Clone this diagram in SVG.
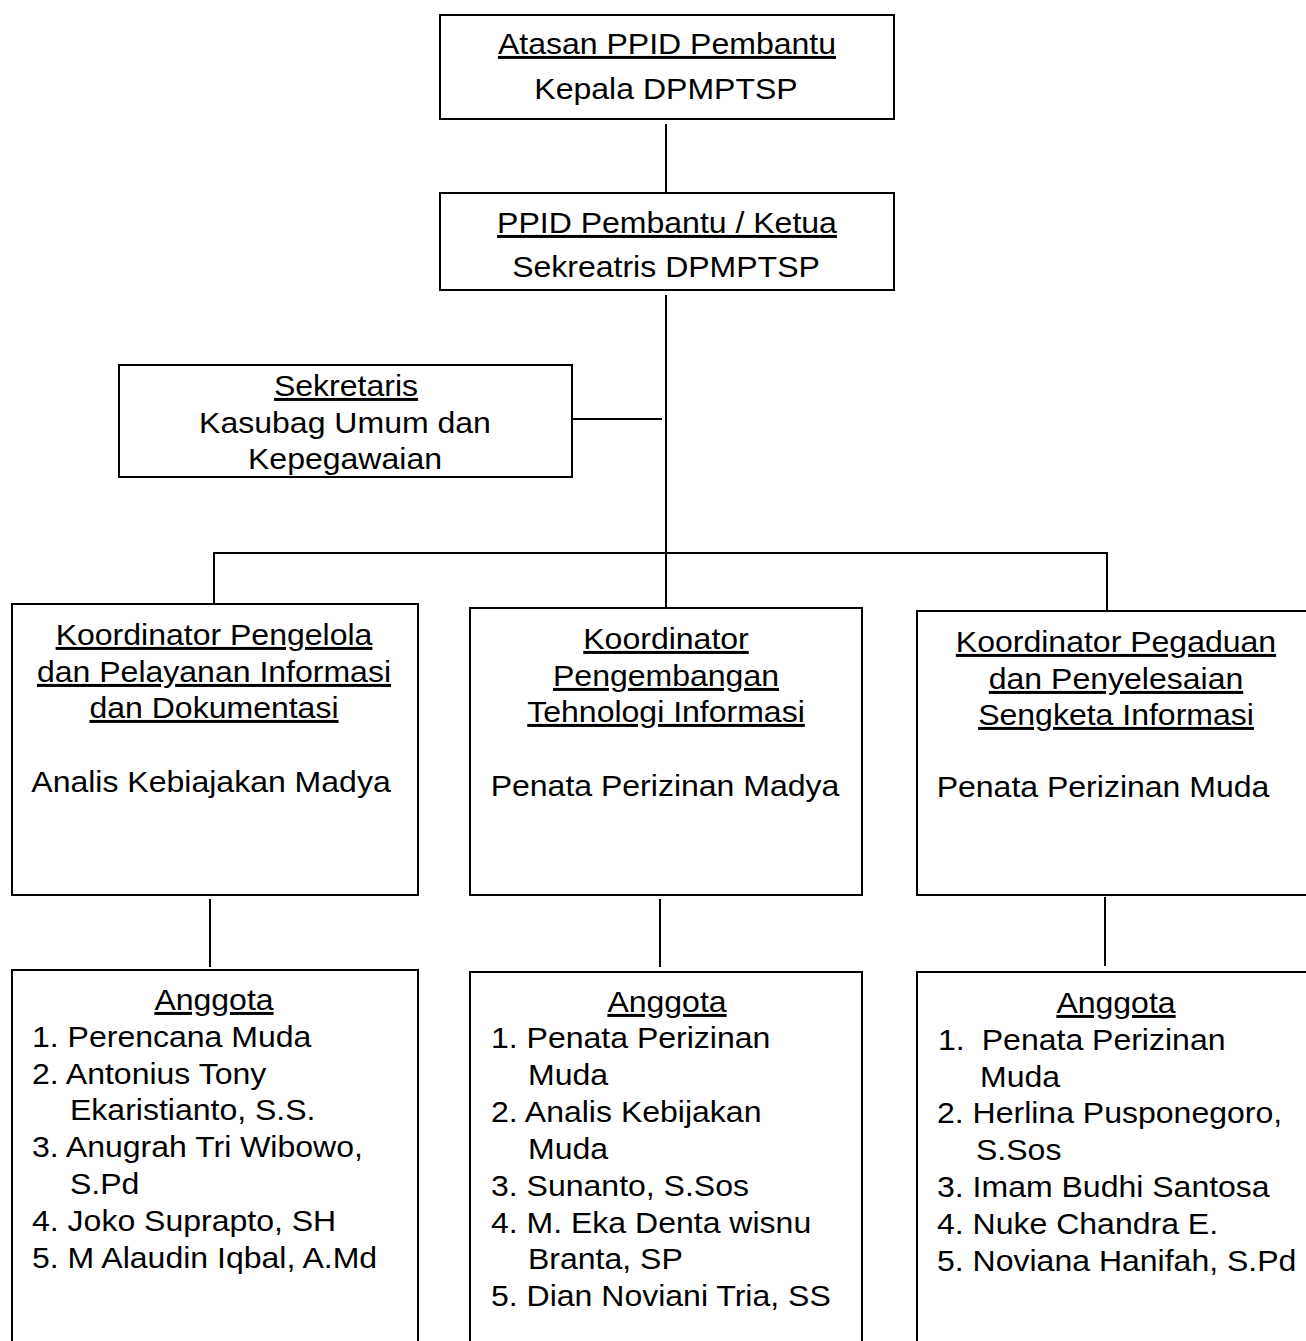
<svg xmlns="http://www.w3.org/2000/svg" width="1306" height="1341" viewBox="0 0 1306 1341">
<style>
.box{fill:#fff;stroke:#000;stroke-width:2}
.ln{stroke:#000;stroke-width:2;fill:none}
text{font-family:"Liberation Sans",Arial,sans-serif;font-size:30px;fill:#000}
.c{text-anchor:middle}
.u{text-decoration:underline}
</style>
<rect width="1306" height="1341" fill="#fff"/>
<g id="connectors">
<line class="ln" x1="666" y1="124" x2="666" y2="192"/>
<line class="ln" x1="666" y1="295" x2="666" y2="607"/>
<line class="ln" x1="573" y1="419" x2="662" y2="419"/>
<line class="ln" x1="213" y1="553" x2="1108" y2="553"/>
<line class="ln" x1="214" y1="552" x2="214" y2="603"/>
<line class="ln" x1="1107" y1="552" x2="1107" y2="610"/>
<line class="ln" x1="210" y1="899" x2="210" y2="967"/>
<line class="ln" x1="660" y1="899" x2="660" y2="967"/>
<line class="ln" x1="1105" y1="897" x2="1105" y2="966"/>
</g>
<g id="atasan">
<rect class="box" x="440" y="15" width="454" height="104"/>
<text class="c u" transform="translate(667 54) scale(1.067 1)">Atasan PPID Pembantu</text>
<text class="c" transform="translate(666 99) scale(1.067 1)">Kepala DPMPTSP</text>
</g>
<g id="ketua">
<rect class="box" x="440" y="193" width="454" height="97"/>
<text class="c u" transform="translate(667 233) scale(1.067 1)">PPID Pembantu / Ketua</text>
<text class="c" transform="translate(666 277) scale(1.067 1)">Sekreatris DPMPTSP</text>
</g>
<g id="sekretaris">
<rect class="box" x="119" y="365" width="453" height="112"/>
<text class="c u" transform="translate(346 396) scale(1.067 1)">Sekretaris</text>
<text class="c" transform="translate(345 433) scale(1.067 1)">Kasubag Umum dan</text>
<text class="c" transform="translate(345 469) scale(1.067 1)">Kepegawaian</text>
</g>
<g id="koord1">
<rect class="box" x="12" y="604" width="406" height="291"/>
<text class="c u" transform="translate(214 645) scale(1.067 1)">Koordinator Pengelola</text>
<text class="c u" transform="translate(214 682) scale(1.067 1)">dan Pelayanan Informasi</text>
<text class="c u" transform="translate(214 718) scale(1.067 1)">dan Dokumentasi</text>
<text class="c" transform="translate(211 792) scale(1.067 1)">Analis Kebiajakan Madya</text>
</g>
<g id="koord2">
<rect class="box" x="470" y="608" width="392" height="287"/>
<text class="c u" transform="translate(666 649) scale(1.067 1)">Koordinator</text>
<text class="c u" transform="translate(666 686) scale(1.067 1)">Pengembangan</text>
<text class="c u" transform="translate(666 722) scale(1.067 1)">Tehnologi Informasi</text>
<text class="c" transform="translate(665 796) scale(1.067 1)">Penata Perizinan Madya</text>
</g>
<g id="koord3">
<rect class="box" x="917" y="611" width="395" height="284"/>
<text class="c u" transform="translate(1116 652) scale(1.067 1)">Koordinator Pegaduan</text>
<text class="c u" transform="translate(1116 689) scale(1.067 1)">dan Penyelesaian</text>
<text class="c u" transform="translate(1116 725) scale(1.067 1)">Sengketa Informasi</text>
<text class="c" transform="translate(1103 797) scale(1.067 1)">Penata Perizinan Muda</text>
</g>
<g id="anggota1">
<rect class="box" x="12" y="970" width="406" height="380"/>
<text class="c u" transform="translate(214 1010) scale(1.067 1)">Anggota</text>
<text transform="translate(32 1047) scale(1.067 1)">1. Perencana Muda</text>
<text transform="translate(32 1084) scale(1.067 1)">2. Antonius Tony</text>
<text transform="translate(70 1120) scale(1.067 1)">Ekaristianto, S.S.</text>
<text transform="translate(32 1157) scale(1.067 1)">3. Anugrah Tri Wibowo,</text>
<text transform="translate(70 1194) scale(1.067 1)">S.Pd</text>
<text transform="translate(32 1231) scale(1.067 1)">4. Joko Suprapto, SH</text>
<text transform="translate(32 1268) scale(1.067 1)">5. M Alaudin Iqbal, A.Md</text>
</g>
<g id="anggota2">
<rect class="box" x="470" y="972" width="392" height="380"/>
<text class="c u" transform="translate(667 1012) scale(1.067 1)">Anggota</text>
<text transform="translate(491 1048) scale(1.067 1)">1. Penata Perizinan</text>
<text transform="translate(528 1085) scale(1.067 1)">Muda</text>
<text transform="translate(491 1122) scale(1.067 1)">2. Analis Kebijakan</text>
<text transform="translate(528 1159) scale(1.067 1)">Muda</text>
<text transform="translate(491 1196) scale(1.067 1)">3. Sunanto, S.Sos</text>
<text transform="translate(491 1233) scale(1.067 1)">4. M. Eka Denta wisnu</text>
<text transform="translate(528 1269) scale(1.067 1)">Branta, SP</text>
<text transform="translate(491 1306) scale(1.067 1)">5. Dian Noviani Tria, SS</text>
</g>
<g id="anggota3">
<rect class="box" x="917" y="972" width="395" height="380"/>
<text class="c u" transform="translate(1116 1013) scale(1.067 1)">Anggota</text>
<text transform="translate(938 1050) scale(1.067 1)">1.<tspan x="41">Penata Perizinan</tspan></text>
<text transform="translate(980 1087) scale(1.067 1)">Muda</text>
<text transform="translate(937 1123) scale(1.067 1)">2. Herlina Pusponegoro,</text>
<text transform="translate(976 1160) scale(1.067 1)">S.Sos</text>
<text transform="translate(937 1197) scale(1.067 1)">3. Imam Budhi Santosa</text>
<text transform="translate(937 1234) scale(1.067 1)">4. Nuke Chandra E.</text>
<text transform="translate(937 1271) scale(1.067 1)">5. Noviana Hanifah, S.Pd</text>
</g>
</svg>
